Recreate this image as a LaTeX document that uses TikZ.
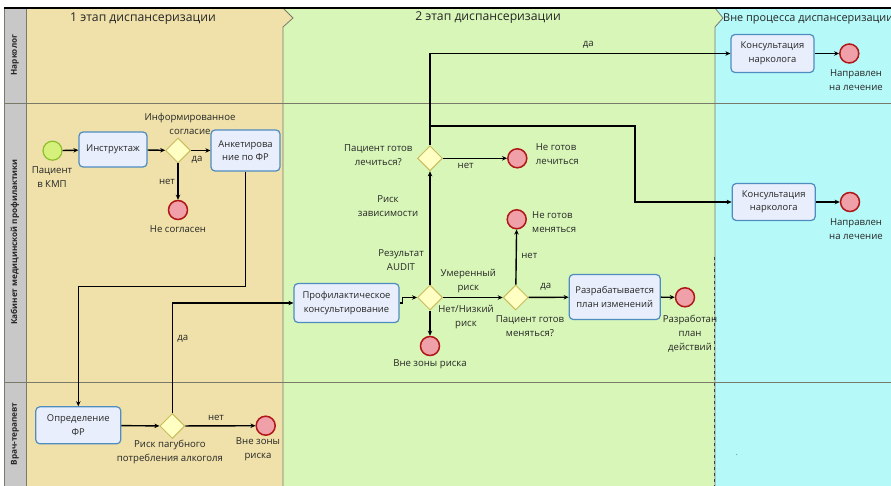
\documentclass[tikz,border=0pt]{standalone}
\usepackage{fontspec}
\setmainfont{Open Sans}
\usetikzlibrary{shapes.geometric,arrows.meta}
\definecolor{tanc}{HTML}{EFE1A9}
\definecolor{greenc}{HTML}{D8F6B8}
\definecolor{cyanc}{HTML}{B5FAF9}
\definecolor{stripc}{HTML}{C8C8C8}
\definecolor{taskfill}{HTML}{E8EEFB}
\definecolor{taskdraw}{HTML}{4F8CC0}
\definecolor{gwfill}{HTML}{FFFFC4}
\definecolor{gwdraw}{HTML}{C9BC5A}
\definecolor{endfill}{HTML}{EFA0A8}
\definecolor{enddraw}{HTML}{B01818}
\definecolor{startfill}{HTML}{D6F07C}
\definecolor{startdraw}{HTML}{8CBE2C}
\definecolor{txt}{HTML}{262626}
\definecolor{sepc}{HTML}{7A7A6A}
\tikzset{
  task/.style={draw=taskdraw, fill=taskfill, line width=1.2pt, rounded corners=4pt, align=center, inner sep=1pt, font=\fontsize{9.4}{13.5}\selectfont, text=txt},
  gw/.style={diamond, aspect=1, draw=gwdraw, fill=gwfill, line width=1pt, minimum width=25pt, minimum height=25pt, inner sep=0pt},
  endev/.style={circle, draw=enddraw, fill=endfill, line width=1.5pt, minimum size=19pt, inner sep=0pt},
  startev/.style={circle, draw=startdraw, fill=startfill, line width=1.2pt, minimum size=19pt, inner sep=0pt},
  lbl/.style={align=center, inner sep=0pt, font=\fontsize{9.6}{14}\selectfont, text=txt},
  lbll/.style={align=left, inner sep=0pt, font=\fontsize{9.6}{14}\selectfont, text=txt, anchor=west},
  hdr/.style={inner sep=0pt, font=\fontsize{12.2}{14}\selectfont, text=txt},
  lane/.style={inner sep=0pt, rotate=90, font=\bfseries\fontsize{8.2}{9}\selectfont, text=txt},
  flow/.style={draw=black, line width=1.4pt, -{Stealth[length=5pt,width=4.5pt]}},
}
\begin{document}
\begin{tikzpicture}[x=1pt,y=-1pt]
\useasboundingbox (0,0) rectangle (891,486);
\fill[white] (0,0) rectangle (891,486);
\begin{scope}
\clip (0,0) rectangle (891,486);
% phases
\fill[tanc] (26,8) -- (283,8) -- (293,18) -- (283,27) -- (283,486) -- (26,486) -- cycle;
\fill[greenc] (283,8) -- (715,8) -- (723,18) -- (715,27) -- (715,486) -- (283,486) -- (283,27) -- (293,18) -- cycle;
\fill[cyanc] (715,8) -- (891,8) -- (891,486) -- (715,486) -- (715,27) -- (723,18) -- cycle;
\draw[sepc, line width=0.8pt] (283,8) -- (293,18) -- (283,27) -- (283,486);
\draw[sepc, line width=0.8pt] (715,8) -- (723,18) -- (715,27) -- (715,486);
\draw[black!75, dashed, line width=0.7pt] (714,257) -- (714,486);
% lane strip
\fill[stripc] (4,8) rectangle (26,486);
\draw[sepc, line width=0.6pt] (4,8) -- (4,486);
\draw[sepc, line width=0.6pt] (26,8) -- (26,486);
\draw[sepc, line width=0.7pt] (4,103) -- (891,103);
\draw[sepc, line width=0.7pt] (4,382) -- (891,382);
\draw[black, line width=1.3pt] (4,8) -- (891,8);
\node[lane] (ln1) at (15,55) {Нарколог};
\node[lane] (ln2) at (15,242) {Кабинет медицинской профилактики};
\node[lane] (ln3) at (15,434) {Врач-терапевт};
% headers
\node[hdr] (h1) at (143,19) {1 этап диспансеризации};
\node[hdr] (h2) at (488,18) {2 этап диспансеризации};
\node[hdr, anchor=west, font=\fontsize{10.9}{13}\selectfont] (h3) at (723,19) {Вне процесса диспансеризации};
\end{scope}

% ---- phase 1
\node[startev] (s1) at (52.5,150.7) {};
\node[lbl] (s1l) at (52,177) {Пациент\\в КМП};
\node[task, minimum width=68pt, minimum height=35pt] (instr) at (113,149.5) {Инструктаж};
\node[gw] (g1) at (178,150.5) {};
\node[lbl] (g1l) at (190,123.5) {Информированное\\согласие};
\node[task, minimum width=69pt, minimum height=41pt] (anket) at (245.5,150.5) {Анкетирова\\ние по ФР};
\node[endev] (e1) at (178,210) {};
\node[lbl] (e1l) at (178,229) {Не согласен};
\node[lbl] (g1n) at (167,182) {нет};
\node[lbl] (g1y) at (197,160) {да};
\draw[flow] (s1) -- (instr);
\draw[flow] (instr) -- (g1);
\draw[flow] (g1) -- (anket);
\draw[flow] (g1) -- (e1);

\node[task, minimum width=85pt, minimum height=37pt] (opr) at (78.3,425.3) {Определение\\ФР};
\node[gw] (g2) at (172.3,426) {};
\node[lbl] (g2l) at (170,452) {Риск пагубного\\потребления алкоголя};
\node[endev] (e2) at (265.7,425.7) {};
\node[lbl] (e2l) at (258,449) {Вне зоны\\риска};
\node[lbl] (g2n) at (216,418) {нет};
\node[lbl] (g2y) at (182.7,339) {да};
\draw[flow] (anket.south) -- (anket.south |- 0,286.7) -| (opr.north);
\draw[flow] (opr) -- (g2);
\draw[flow] (g2) -- (e2);

% ---- phase 2
\node[task, minimum width=105pt, minimum height=39pt] (prof) at (346.5,303) {Профилактическое\\консультирование};
\draw[flow] (g2.north) |- (prof.west);
\node[gw] (g3) at (430,297.5) {};
\node[lbl] (g3l) at (401,260) {Результат\\AUDIT};
\draw[flow] (prof.east) -- ++(3,0) |- (g3.west);
\node[gw] (g4) at (430,158.3) {};
\node[lbl] (g4l) at (378.3,155) {Пациент готов\\лечиться?};
\node[lbl] (rz) at (388,206) {Риск\\зависимости};
\draw[flow] (g3.north) -- (g4.south);
\node[endev] (e3) at (517.3,158.3) {};
\node[lbl] (g4n) at (465.7,165.7) {нет};
\node[lbll] (e3l) at (535.7,153.7) {Не готов\\лечиться};
\draw[flow] (g4) -- (e3);

\node[gw] (g5) at (515.7,297.5) {};
\node[lbl] (g5l) at (530,326) {Пациент готов\\меняться?};
\node[lbl] (umr) at (468.3,281.5) {Умеренный\\риск};
\node[lbl] (nzr) at (466,317) {Нет/Низкий\\риск};
\draw[flow] (g3) -- (g5);
\node[endev] (e4) at (430,346) {};
\node[lbl] (e4l) at (430,364.3) {Вне зоны риска};
\draw[flow] (g3) -- (e4);
\node[endev] (e5) at (516.7,219.3) {};
\node[lbl] (g5n) at (529.3,255.7) {нет};
\node[lbll] (e5l) at (532,222) {Не готов\\меняться};
\draw[flow] (g5) -- (e5);
\node[task, minimum width=91pt, minimum height=45pt] (razr) at (614.7,297) {Разрабатывается\\план изменений};
\node[lbl] (g5y) at (545.7,286.7) {да};
\draw[flow] (g5) -- (razr);
\node[endev] (e6) at (685,297.3) {};
\node[lbl] (e6l) at (690,333.3) {Разработан\\план\\действий};
\draw[flow] (razr) -- (e6);

% ---- phase 3
\node[task, minimum width=83pt, minimum height=38pt] (k1) at (772.5,53.5) {Консультация\\нарколога};
\node[endev] (e7) at (849.3,53.5) {};
\node[lbl] (e7l) at (856,80) {Направлен\\на лечение};
\draw[flow] (k1) -- (e7);
\node[task, minimum width=83pt, minimum height=37pt] (k2) at (773.7,202) {Консультация\\нарколога};
\node[endev] (e8) at (850,202) {};
\node[lbl] (e8l) at (856,229) {Направлен\\на лечение};
\draw[flow] (k2) -- (e8);

\node[lbl] (g4y) at (588.3,44.3) {да};
\draw[flow] (g4.north) |- (k1.west);
\coordinate (br) at (430,126);
\coordinate (bend) at (635,126);
\draw[flow] (br) -- (bend) |- (k2.west);

\node[inner sep=0pt, font=\fontsize{6}{6}\selectfont] (dot) at (737,455) {.};
\end{tikzpicture}
\end{document}
